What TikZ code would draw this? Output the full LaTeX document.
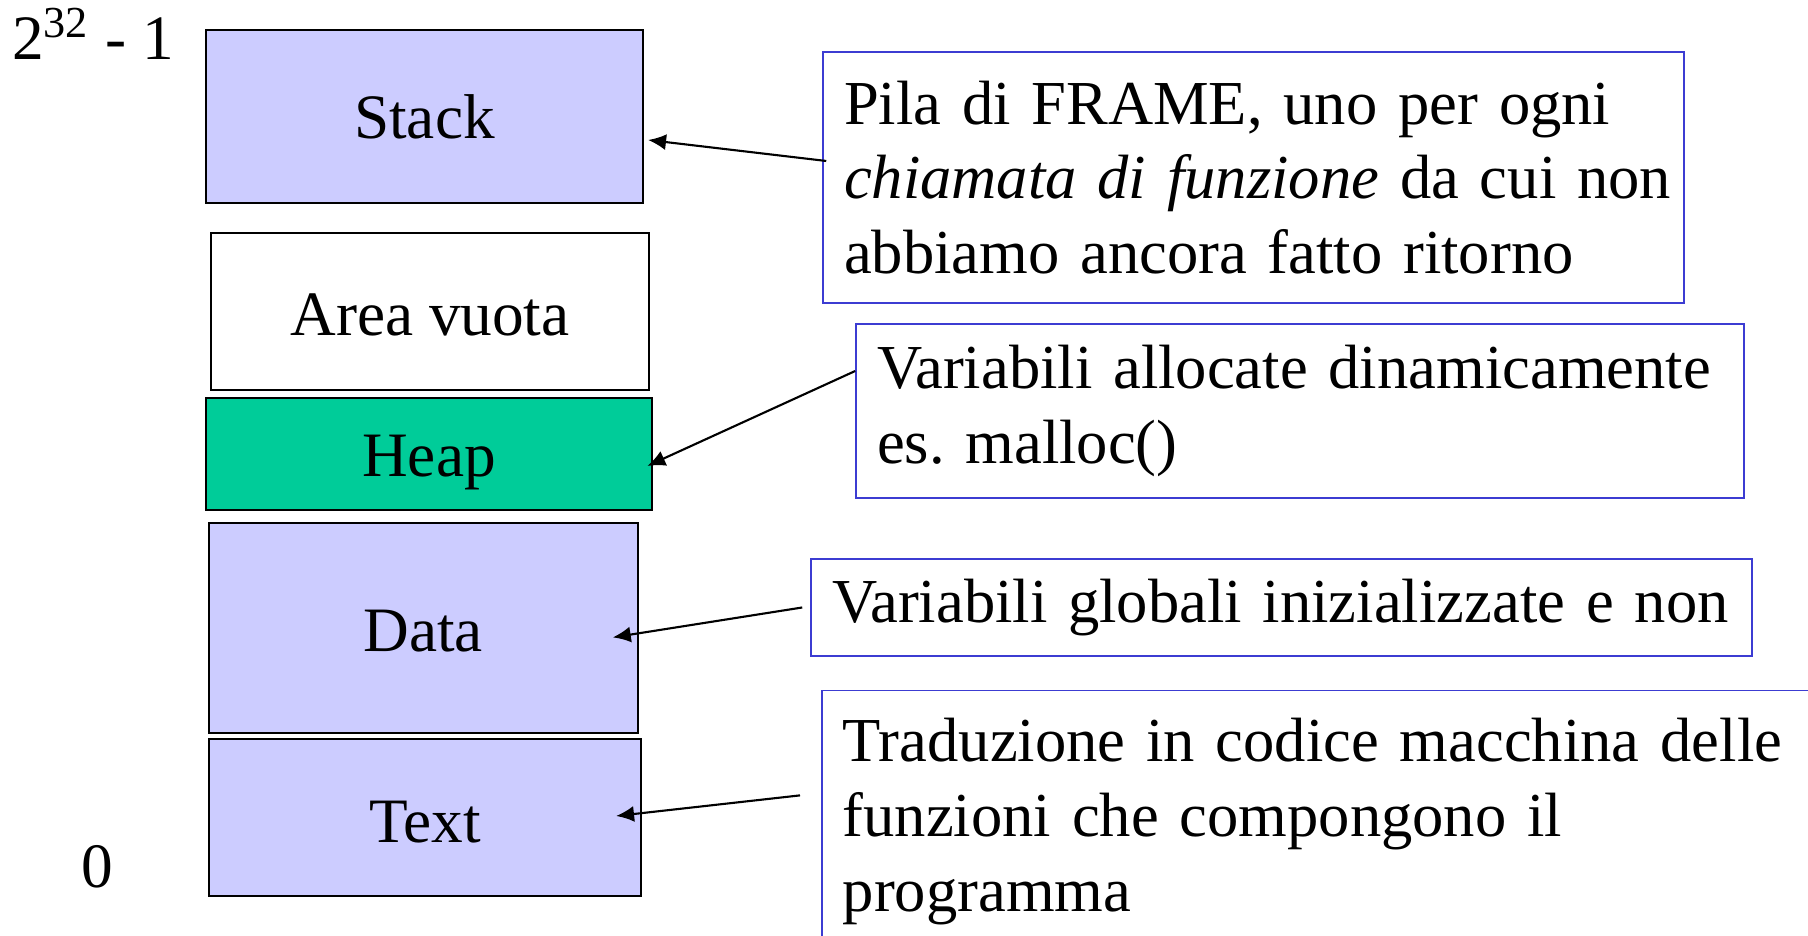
\documentclass[tikz,border=0pt]{standalone}
\usepackage{fontspec}
\setmainfont{Liberation Serif}
\usetikzlibrary{arrows.meta}
\definecolor{lilla}{RGB}{204,204,255}
\definecolor{verdeheap}{RGB}{0,204,153}
\definecolor{bordonota}{RGB}{60,60,210}
\tikzset{
	blocco/.style={draw=black, line width=0.6pt, inner sep=0pt, font=\fontsize{18}{21.3}\selectfont},
	nota/.style={draw=bordonota, line width=0.45pt, align=left, inner ysep=0pt, inner xsep=2.1mm, font=\fontsize{17.8}{21.3}\selectfont\frenchspacing},
	freccia/.style={line width=0.6pt, -{Latex[length=1.8mm,width=1.6mm]}}
}

\begin{document}
\begin{tikzpicture}
			%%%%% START %%%%%
			\useasboundingbox (0, 0) rectangle (18.08, 9.36);
			\clip (0, 0) rectangle (18.08, 9.36);
			
			\node[anchor=base west, inner sep=0pt, font=\fontsize{18}{21.3}\selectfont] (alto) at (0.115, 8.76) {2\textsuperscript{32} - 1};
			\node[anchor=base west, inner sep=0pt, font=\fontsize{18}{21.3}\selectfont] (basso) at (0.81, 0.48) {0};
			
			\node[blocco, fill=lilla, minimum width=4.37cm, minimum height=1.73cm] (stack) at (4.245, 8.195) {Stack};
			\node[blocco, fill=white, minimum width=4.38cm, minimum height=1.57cm] (vuota) at (4.30, 6.245) {\raisebox{-0.3mm}[\height][\depth]{Area vuota}};
			\node[blocco, fill=verdeheap, minimum width=4.455cm, minimum height=1.12cm] (heap) at (4.29, 4.82) {\raisebox{-0.9mm}[\height][\depth]{Heap}};
			\node[blocco, fill=lilla, minimum width=4.29cm, minimum height=2.10cm] (data) at (4.232, 3.076) {\raisebox{-0.3mm}[\height][\depth]{Data}};
			\node[blocco, fill=lilla, minimum width=4.32cm, minimum height=1.57cm] (text) at (4.25, 1.185) {\raisebox{-0.5mm}[\height][\depth]{Text}};
			
			\node[nota, text width=8.19cm, minimum height=2.51cm] (pila) at (12.535, 7.585) {\mbox{Pila di FRAME, uno per ogni}\\\mbox{\textit{chiamata di funzione} da cui non}\\\mbox{abbiamo ancora fatto ritorno}};
			\node[nota, text width=8.46cm, minimum height=1.74cm] (dinamiche) at (13.0, 5.25) {\mbox{Variabili allocate dinamicamente}\\es. malloc()};
			\node[nota, text width=8.99cm, minimum height=0.97cm] (globali) at (12.815, 3.285) {\mbox{Variabili globali inizializzate e non}};
			\node[nota, text width=10cm, minimum height=2.62cm, anchor=north west] (traduzione) at (8.21, 2.464) {Traduzione in codice macchina delle\\funzioni che compongono il\\programma};
			
			\draw[freccia] ([xshift=0.4mm, yshift=1.65mm]pila.west) -- ([xshift=0.4mm, yshift=-2.35mm]stack.east);
			\draw[freccia] ([yshift=4mm]dinamiche.west) -- ([xshift=-0.55mm, yshift=-1.2mm]heap.east);
			\draw[freccia] ([xshift=-0.8mm]globali.west) -- ([xshift=-2.6mm, yshift=-0.9mm]data.east);
			\draw[freccia] ([xshift=-2.1mm, yshift=2.6mm]traduzione.west) -- ([xshift=-2.6mm, yshift=0.15mm]text.east);
			%%%%% END %%%%%
\end{tikzpicture}
\end{document}
